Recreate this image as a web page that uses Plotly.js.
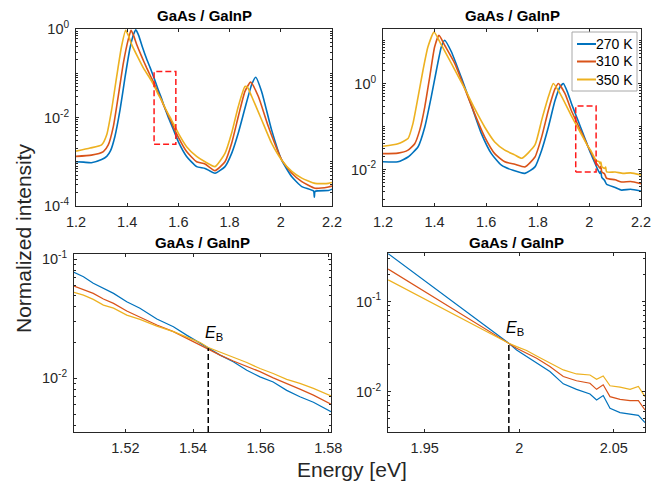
<!DOCTYPE html>
<html><head><meta charset="utf-8">
<script src="https://cdn.plot.ly/plotly-3.0.1.min.js"></script>
<style>html,body{margin:0;padding:0;background:#fff}#chart{width:670px;height:483px}</style>
</head><body><div id="chart"></div>
<script>
// ---------- data ----------
const seriesNames = ['270 K', '310 K', '350 K'];
const seriesColors = ['#0072BD', '#D95319', '#EDB120'];
const panelTitle = 'GaAs / GaInP';

// top-left panel (normalized to first peak)
const tlBlueE = [1.200,1.230,1.260,1.300,1.320,1.335,1.352,1.372,1.391,1.411,1.425,1.434,1.445,1.460,1.476,1.490,1.505,1.520,1.534,1.5445,1.560,1.572,1.581,1.600,1.632,1.671,1.704,1.743,1.782,1.808,1.834,1.860,1.886,1.902,1.925,1.964,2.003,2.043,2.082,2.128,2.131,2.134,2.186,2.200];
const tlBlueI = [1.00e-3,9.8e-4,9.5e-4,1.12e-3,1.32e-3,1.78e-3,3.72e-3,1.48e-2,7.76e-2,0.372,0.759,0.955,0.708,0.380,0.209,0.132,7.76e-2,4.41e-2,2.72e-2,1.79e-2,1.03e-2,7.0e-3,5.25e-3,2.82e-3,1.32e-3,7.76e-4,7.08e-4,5.5e-4,7.76e-4,1.55e-3,4.47e-3,1.62e-2,5.5e-2,8.13e-2,3.89e-2,5.25e-3,1.10e-3,4.57e-4,2.75e-4,2.19e-4,1.58e-4,2.14e-4,2.24e-4,2.4e-4];
const tlRedE = [1.200,1.260,1.307,1.326,1.346,1.365,1.385,1.404,1.415,1.425,1.437,1.455,1.476,1.490,1.505,1.520,1.534,1.5445,1.560,1.572,1.581,1.600,1.632,1.671,1.704,1.743,1.782,1.808,1.834,1.860,1.882,1.912,1.951,2.003,2.043,2.082,2.134,2.186,2.200];
const tlRedI = [1.32e-3,1.41e-3,1.70e-3,2.40e-3,6.31e-3,3.02e-2,0.170,0.575,0.933,0.708,0.447,0.251,0.132,8.91e-2,5.97e-2,3.68e-2,2.47e-2,1.77e-2,1.14e-2,8.13e-3,6.08e-3,3.55e-3,1.70e-3,1.0e-3,8.91e-4,6.31e-4,1.0e-3,2.63e-3,1.05e-2,3.89e-2,6.31e-2,3.02e-2,6.31e-3,1.12e-3,5.5e-4,3.55e-4,2.51e-4,2.69e-4,2.82e-4];
const tlYellowE = [1.200,1.255,1.300,1.320,1.339,1.359,1.378,1.394,1.405,1.418,1.440,1.463,1.485,1.505,1.520,1.534,1.5445,1.560,1.572,1.581,1.600,1.632,1.671,1.704,1.743,1.782,1.808,1.834,1.860,1.870,1.886,1.925,1.964,2.003,2.043,2.082,2.134,2.186,2.200];
const tlYellowI = [1.74e-3,2.04e-3,2.40e-3,4.07e-3,1.48e-2,8.51e-2,0.407,0.933,0.708,0.437,0.240,0.132,8.32e-2,5.28e-2,3.40e-2,2.47e-2,1.82e-2,1.21e-2,9.08e-3,7.14e-3,4.37e-3,2.19e-3,1.32e-3,1.0e-3,7.76e-4,1.55e-3,4.47e-3,1.78e-2,5.01e-2,4.79e-2,3.02e-2,8.91e-3,2.63e-3,1.10e-3,6.03e-4,4.27e-4,3.24e-4,3.24e-4,3.39e-4];

// top-right panel (normalized to second peak)
const trBlueE = [1.200,1.258,1.297,1.336,1.362,1.387,1.407,1.426,1.439,1.465,1.503,1.542,1.581,1.620,1.659,1.704,1.750,1.789,1.815,1.841,1.867,1.886,1.899,1.915,1.9307,1.9474,1.9651,1.9827,1.9945,2.0039,2.0162,2.0303,2.0409,2.0444,2.0480,2.0586,2.0665,2.100,2.125,2.160,2.200];
const trBlueI = [1.51e-2,1.51e-2,1.95e-2,3.39e-2,9.77e-2,0.490,2.04,7.08,10.2,5.50,1.41,0.316,6.92e-2,2.34e-2,1.26e-2,9.55e-3,8.13e-3,1.15e-2,2.82e-2,9.77e-2,0.407,0.832,1.0,0.631,0.339,0.186,0.0991,0.0527,0.0344,0.0245,0.0167,0.0106,0.00807,0.00904,0.00653,0.00560,0.00453,3.80e-3,3.31e-3,3.47e-3,3.16e-3];
const trRedE = [1.200,1.258,1.297,1.323,1.342,1.362,1.381,1.400,1.417,1.440,1.478,1.517,1.555,1.594,1.633,1.672,1.711,1.750,1.789,1.815,1.841,1.867,1.880,1.905,1.9307,1.9474,1.9651,1.9827,1.9945,2.0039,2.0162,2.0233,2.0303,2.0409,2.0444,2.0480,2.0586,2.0665,2.100,2.125,2.160,2.200];
const trRedI = [2.34e-2,2.40e-2,2.82e-2,3.98e-2,8.13e-2,0.288,1.41,7.08,13.2,7.59,2.95,0.759,0.200,5.75e-2,2.34e-2,1.51e-2,1.32e-2,1.15e-2,1.95e-2,5.75e-2,0.240,0.759,1.0,0.589,0.229,0.139,0.0826,0.0490,0.0344,0.0267,0.0190,0.0147,0.0132,0.0106,0.0119,0.00879,0.00794,0.00625,5.75e-3,5.13e-3,5.25e-3,4.68e-3];
const trYellowE = [1.200,1.258,1.297,1.316,1.336,1.355,1.374,1.398,1.420,1.465,1.517,1.555,1.594,1.633,1.672,1.710,1.738,1.789,1.815,1.841,1.860,1.886,1.9307,1.9474,1.9651,1.9827,1.9945,2.0039,2.0162,2.0233,2.0303,2.0374,2.0409,2.0444,2.0480,2.0586,2.0630,2.0665,2.100,2.130,2.160,2.200];
const trYellowI = [3.47e-2,3.98e-2,5.25e-2,0.117,0.490,2.04,7.08,15.8,9.33,2.95,0.759,0.263,9.77e-2,4.37e-2,2.82e-2,2.19e-2,1.82e-2,3.72e-2,0.141,0.490,1.0,0.589,0.174,0.114,0.0726,0.0465,0.0344,0.0286,0.0207,0.0174,0.0157,0.0153,0.0137,0.0149,0.0116,0.0106,0.0114,0.00879,8.71e-3,8.13e-3,8.32e-3,7.41e-3];

// bottom-left zoom
const blE = [1.5048,1.5076,1.5105,1.5135,1.5165,1.5204,1.5243,1.5293,1.5342,1.5381,1.5421,1.5445,1.5480,1.5519,1.5559,1.5598,1.5637,1.5677,1.5716,1.5756,1.5808];
const blBlueI = [0.0778,0.0714,0.0631,0.0570,0.0518,0.0441,0.0389,0.0316,0.0272,0.0231,0.0197,0.0179,0.0157,0.0138,0.0117,0.0103,0.00933,0.00794,0.00701,0.00631,0.00525];
const blRedI = [0.0597,0.0560,0.0518,0.0465,0.0427,0.0368,0.0326,0.0281,0.0247,0.0217,0.0191,0.0177,0.0157,0.0140,0.0126,0.0114,0.0101,0.00908,0.00813,0.00724,0.00608];
const blYellowI = [0.0528,0.0501,0.0461,0.0413,0.0389,0.0340,0.0313,0.0275,0.0247,0.0224,0.0200,0.0182,0.0166,0.0152,0.0136,0.0121,0.0110,0.00982,0.00908,0.00824,0.00714];

// bottom-right zoom
const brE = [1.9307,1.9386,1.9474,1.9563,1.9651,1.9739,1.9827,1.9898,1.9945,1.9986,2.0039,2.0092,2.0162,2.0233,2.0303,2.0374,2.0409,2.0444,2.0480,2.0533,2.0586,2.0630,2.0665];
const brBlueI = [0.339,0.255,0.186,0.136,0.0991,0.0723,0.0527,0.0408,0.0344,0.0290,0.0245,0.0210,0.0167,0.0122,0.0106,0.00942,0.00807,0.00904,0.00653,0.00585,0.00560,0.00546,0.00453];
const brRedI = [0.229,0.181,0.139,0.107,0.0826,0.0637,0.0490,0.0398,0.0344,0.0303,0.0267,0.0234,0.0190,0.0147,0.0132,0.0124,0.0106,0.0119,0.00879,0.00822,0.00794,0.00794,0.00625];
const brYellowI = [0.174,0.142,0.114,0.0910,0.0726,0.0581,0.0465,0.0388,0.0344,0.0316,0.0286,0.0249,0.0207,0.0174,0.0157,0.0153,0.0137,0.0149,0.0116,0.0112,0.0106,0.0114,0.00879];

// crossing energies E_B and intensity there
const ebEnergy = [1.5445, 1.9945];
const ebIntensity = [0.0179, 0.0344];

// zoom windows marked in the top panels [Emin, Emax], [Imin, Imax]
const tlBoxE = [1.505, 1.59], tlBoxI = [0.0025, 0.11];
const trBoxE = [1.947, 2.026], trBoxI = [0.0087, 0.30];

// axis ranges (log10 for y)
const tlXRange = [1.2, 2.2], tlYRange = [-4, 0];
const trXRange = [1.2, 2.2], trYRange = [-2.85, 1.27];
const blXRange = [1.5048, 1.5808], blYRange = [-2.45, -0.955];
const brXRange = [1.9306, 2.0665], brYRange = [-2.448, -0.462];

// tick labels
const topXTicks = [1.2, 1.4, 1.6, 1.8, 2, 2.2];
const topXText = ['1.2', '1.4', '1.6', '1.8', '2', '2.2'];
const blXTicks = [1.52, 1.54, 1.56, 1.58];
const blXText = ['1.52', '1.54', '1.56', '1.58'];
const brXTicks = [1.95, 2, 2.05];
const brXText = ['1.95', '2', '2.05'];
const tlYExp = [0, -2, -4];
const trYExp = [0, -2];
const blYExp = [-1, -2];
const brYExp = [-1, -2];

// ---------- build ----------
const FONT = 'Liberation Sans, Arial, Helvetica, sans-serif';
const AX = '#262626';
const TICK = 14.5;

function minorVals(range) {
  const out = [];
  for (let k = Math.floor(range[0]) - 1; k <= Math.ceil(range[1]); k++) {
    for (let m = 1; m <= 9; m++) out.push(m * Math.pow(10, k));
  }
  return out;
}
function expText(e) { return '10<sup>' + e + '</sup>'; }

function xAxis(domain, anchor, range, vals, text) {
  return {
    domain: domain, anchor: anchor, range: range, type: 'linear',
    tickmode: 'array', tickvals: vals, ticktext: text,
    ticks: 'inside', ticklen: 3, tickwidth: 1, tickcolor: AX,
    showline: true, linecolor: AX, linewidth: 1, mirror: 'ticks',
    showgrid: false, zeroline: false,
    tickfont: {family: FONT, size: TICK, color: AX},
    ticklabelstandoff: 3
  };
}
function yAxis(domain, anchor, range, exps) {
  return {
    domain: domain, anchor: anchor, range: range, type: 'log',
    tickmode: 'array', tickvals: exps.map(e => Math.pow(10, e)), ticktext: exps.map(expText),
    ticks: 'inside', ticklen: 3, tickwidth: 1, tickcolor: AX,
    minor: {tickmode: 'array', tickvals: minorVals(range), ticks: 'inside', ticklen: 2, tickwidth: 1, tickcolor: AX, showgrid: false},
    showline: true, linecolor: AX, linewidth: 1, mirror: 'ticks',
    showgrid: false, zeroline: false,
    tickfont: {family: FONT, size: TICK, color: AX},
    ticklabelstandoff: 3
  };
}

const W = 670, H = 483;
const px = v => v / W;
const py = v => 1 - v / H;

const panels = [
  {xa: 'x', ya: 'y', E: [tlBlueE, tlRedE, tlYellowE], I: [tlBlueI, tlRedI, tlYellowI], w: 1.6, shape: 'spline'},
  {xa: 'x2', ya: 'y2', E: [trBlueE, trRedE, trYellowE], I: [trBlueI, trRedI, trYellowI], w: 1.6, shape: 'spline'},
  {xa: 'x3', ya: 'y3', E: [blE, blE, blE], I: [blBlueI, blRedI, blYellowI], w: 1.2, shape: 'linear'},
  {xa: 'x4', ya: 'y4', E: [brE, brE, brE], I: [brBlueI, brRedI, brYellowI], w: 1.2, shape: 'linear'}
];

const traces = [];
panels.forEach(p => {
  for (let s = 0; s < 3; s++) {
    traces.push({
      type: 'scatter', mode: 'lines', x: p.E[s], y: p.I[s], name: seriesNames[s],
      xaxis: p.xa, yaxis: p.ya, showlegend: false,
      line: {color: seriesColors[s], width: p.w, shape: p.shape, smoothing: 0.5}, hoverinfo: 'x+y+name'
    });
  }
});

function boxTrace(E, I, xa, ya) {
  return {
    type: 'scatter', mode: 'lines', xaxis: xa, yaxis: ya, showlegend: false, hoverinfo: 'skip',
    x: [E[0], E[1], E[1], E[0], E[0]], y: [I[0], I[0], I[1], I[1], I[0]],
    line: {color: '#FF1A1A', width: 1.5, dash: '6px,3px'}
  };
}
traces.push(boxTrace(tlBoxE, tlBoxI, 'x', 'y'));
traces.push(boxTrace(trBoxE, trBoxI, 'x2', 'y2'));

// E_B vertical dashed markers (from bottom of axis to crossing intensity)
[[0, 'x3', 'y3', blYRange], [1, 'x4', 'y4', brYRange]].forEach(([i, xa, ya, yr]) => {
  traces.push({
    type: 'scatter', mode: 'lines', xaxis: xa, yaxis: ya, showlegend: false, hoverinfo: 'skip',
    x: [ebEnergy[i], ebEnergy[i]], y: [Math.pow(10, yr[0]), ebIntensity[i]],
    line: {color: '#000000', width: 1.5, dash: '6px,3px'}
  });
});

const titleFont = {family: FONT, size: 15, color: '#000000'};
const labelFont = {family: FONT, size: 21, color: AX};
const annotations = [
  {text: '<b>' + panelTitle + '</b>', x: px(204), y: py(15.5), xref: 'paper', yref: 'paper', showarrow: false, font: titleFont, xanchor: 'center', yanchor: 'middle'},
  {text: '<b>' + panelTitle + '</b>', x: px(512), y: py(15.5), xref: 'paper', yref: 'paper', showarrow: false, font: titleFont, xanchor: 'center', yanchor: 'middle'},
  {text: '<b>' + panelTitle + '</b>', x: px(202), y: py(242.5), xref: 'paper', yref: 'paper', showarrow: false, font: titleFont, xanchor: 'center', yanchor: 'middle'},
  {text: '<b>' + panelTitle + '</b>', x: px(516.5), y: py(242.5), xref: 'paper', yref: 'paper', showarrow: false, font: titleFont, xanchor: 'center', yanchor: 'middle'},
  {text: 'Normalized intensity', x: px(24), y: py(238), xref: 'paper', yref: 'paper', showarrow: false, textangle: -90, font: labelFont, xanchor: 'center', yanchor: 'middle'},
  {text: 'Energy [eV]', x: px(352), y: py(469), xref: 'paper', yref: 'paper', showarrow: false, font: labelFont, xanchor: 'center', yanchor: 'middle'},
  {text: '<i>E</i><sub>B</sub>', x: ebEnergy[0], y: Math.log10(ebIntensity[0]), xref: 'x3', yref: 'y3', showarrow: false, xanchor: 'center', yanchor: 'bottom', xshift: 6, yshift: 3, font: {family: FONT, size: 16, color: '#000000'}},
  {text: '<i>E</i><sub>B</sub>', x: ebEnergy[1], y: Math.log10(ebIntensity[1]), xref: 'x4', yref: 'y4', showarrow: false, xanchor: 'center', yanchor: 'bottom', xshift: 6, yshift: 3, font: {family: FONT, size: 16, color: '#000000'}}
];

// legend box (top-right panel)
const legBox = {x0: 572, x1: 637, y0: 32, y1: 91};
const legRows = [44, 61.5, 79.5];
const shapes = [
  {type: 'rect', xref: 'paper', yref: 'paper', x0: px(legBox.x0), x1: px(legBox.x1), y0: py(legBox.y1), y1: py(legBox.y0), line: {color: '#a8a8a8', width: 1}, fillcolor: '#ffffff', layer: 'above'}
];
legRows.forEach((r, s) => {
  shapes.push({type: 'line', xref: 'paper', yref: 'paper', x0: px(577), x1: px(596), y0: py(r), y1: py(r), line: {color: seriesColors[s], width: 2}, layer: 'above'});
  annotations.push({text: seriesNames[s], x: px(594), y: py(r), xref: 'paper', yref: 'paper', showarrow: false, xanchor: 'left', yanchor: 'middle', font: {family: FONT, size: 14, color: '#000000'}});
});

const layout = {
  width: W, height: H, margin: {l: 0, r: 0, t: 0, b: 0},
  paper_bgcolor: '#ffffff', plot_bgcolor: '#ffffff', showlegend: false,
  font: {family: FONT, size: 14, color: AX},
  xaxis: xAxis([px(76), px(332)], 'y', tlXRange, topXTicks, topXText),
  yaxis: yAxis([py(206), py(29)], 'x', tlYRange, tlYExp),
  xaxis2: xAxis([px(383), px(641)], 'y2', trXRange, topXTicks, topXText),
  yaxis2: yAxis([py(206), py(29)], 'x2', trYRange, trYExp),
  xaxis3: xAxis([px(74), px(331)], 'y3', blXRange, blXTicks, blXText),
  yaxis3: yAxis([py(432), py(254)], 'x3', blYRange, blYExp),
  xaxis4: xAxis([px(388), px(645)], 'y4', brXRange, brXTicks, brXText),
  yaxis4: yAxis([py(432), py(253)], 'x4', brYRange, brYExp),
  annotations: annotations,
  shapes: shapes
};

Plotly.newPlot('chart', traces, layout, {displayModeBar: false});
</script>
</body></html>
